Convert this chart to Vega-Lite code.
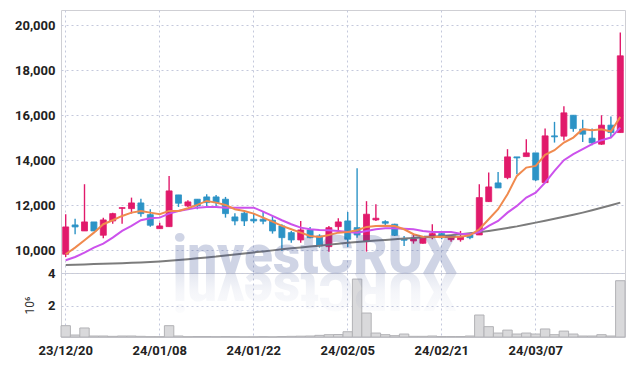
{
"$schema": "https://vega.github.io/schema/vega-lite/v6.json",
"padding": {"left": 14, "top": 9, "right": 8, "bottom": 5},
"background": "white",
"spacing": 0,
"bounds": "flush",
"config": {
 "font": "Roboto",
 "view": {"stroke": "#cfcfd4"},
 "axis": {"labelFont": "Roboto", "labelFontWeight": "bold", "labelFontSize": 13, "labelColor": "#222222", "ticks": false, "domain": false, "gridColor": "#c4c9dc", "gridDash": [2, 3], "gridWidth": 1, "labelPadding": 6}
},
"datasets": {"k": [
{"d":"23/12/20","o":9822,"h":11600,"l":9702,"c":11036,"v":0.79,"m1":9822,"m2":9556,"m3":9347},
{"d":"23/12/21","o":11124,"h":11404,"l":10711,"c":11036,"v":0.22,"m1":10116,"m2":9702,"m3":9360},
{"d":"23/12/22","o":10858,"h":12933,"l":10858,"c":11258,"v":0.65,"m1":10444,"m2":9893,"m3":9372},
{"d":"23/12/26","o":11258,"h":11258,"l":10858,"c":10858,"v":0.16,"m1":10782,"m2":10116,"m3":9385},
{"d":"23/12/27","o":10667,"h":11449,"l":10533,"c":11347,"v":0.16,"m1":11156,"m2":10293,"m3":9398},
{"d":"23/12/28","o":11302,"h":11671,"l":11182,"c":11627,"v":0.14,"m1":11333,"m2":10560,"m3":9412},
{"d":"24/01/02","o":11860,"h":11900,"l":11182,"c":11893,"v":0.16,"m1":11524,"m2":10858,"m3":9427},
{"d":"24/01/03","o":11849,"h":12338,"l":11627,"c":12102,"v":0.16,"m1":11671,"m2":11080,"m3":9443},
{"d":"24/01/04","o":12102,"h":12293,"l":11493,"c":11627,"v":0.14,"m1":11747,"m2":11333,"m3":9460},
{"d":"24/01/05","o":11582,"h":11822,"l":11049,"c":11111,"v":0.12,"m1":11671,"m2":11422,"m3":9480},
{"d":"24/01/08","o":10960,"h":11227,"l":10960,"c":11080,"v":0.12,"m1":11600,"m2":11449,"m3":9505},
{"d":"24/01/09","o":11049,"h":13302,"l":11049,"c":12636,"v":0.79,"m1":11747,"m2":11627,"m3":9535},
{"d":"24/01/10","o":12458,"h":12458,"l":11924,"c":12089,"v":0.16,"m1":11747,"m2":11747,"m3":9570},
{"d":"24/01/11","o":11969,"h":12222,"l":11924,"c":12147,"v":0.12,"m1":11867,"m2":11822,"m3":9605},
{"d":"24/01/12","o":12267,"h":12267,"l":11822,"c":11969,"v":0.13,"m1":12013,"m2":11893,"m3":9640},
{"d":"24/01/15","o":12369,"h":12489,"l":11969,"c":12116,"v":0.13,"m1":12191,"m2":11924,"m3":9680},
{"d":"24/01/16","o":12369,"h":12458,"l":11938,"c":12116,"v":0.12,"m1":12116,"m2":11924,"m3":9720},
{"d":"24/01/17","o":12267,"h":12369,"l":11449,"c":11627,"v":0.13,"m1":12013,"m2":11893,"m3":9770},
{"d":"24/01/18","o":11480,"h":11644,"l":11111,"c":11302,"v":0.12,"m1":11822,"m2":11893,"m3":9815},
{"d":"24/01/19","o":11644,"h":11778,"l":11080,"c":11302,"v":0.11,"m1":11747,"m2":11893,"m3":9860},
{"d":"24/01/22","o":11378,"h":11627,"l":11200,"c":11302,"v":0.11,"m1":11627,"m2":11893,"m3":9905},
{"d":"24/01/23","o":11378,"h":11700,"l":11160,"c":11290,"v":0.12,"m1":11449,"m2":11716,"m3":9950},
{"d":"24/01/24","o":11333,"h":11524,"l":10738,"c":10858,"v":0.11,"m1":11271,"m2":11524,"m3":9995},
{"d":"24/01/25","o":11080,"h":11156,"l":9969,"c":10560,"v":0.13,"m1":11080,"m2":11333,"m3":10040},
{"d":"24/01/26","o":10782,"h":10858,"l":10338,"c":10458,"v":0.14,"m1":10933,"m2":11156,"m3":10085},
{"d":"24/01/29","o":10458,"h":11302,"l":10338,"c":10902,"v":0.15,"m1":10782,"m2":11004,"m3":10125},
{"d":"24/01/30","o":10902,"h":11036,"l":10533,"c":10560,"v":0.16,"m1":10636,"m2":10933,"m3":10165},
{"d":"24/01/31","o":10636,"h":10711,"l":10116,"c":10191,"v":0.2,"m1":10591,"m2":10902,"m3":10205},
{"d":"24/02/01","o":10160,"h":11080,"l":9938,"c":11004,"v":0.24,"m1":10680,"m2":10889,"m3":10250},
{"d":"24/02/02","o":11049,"h":11422,"l":10858,"c":11258,"v":0.25,"m1":10782,"m2":10858,"m3":10290},
{"d":"24/02/05","o":11302,"h":11702,"l":10147,"c":10489,"v":0.42,"m1":10813,"m2":10813,"m3":10330},
{"d":"24/02/06","o":11004,"h":13644,"l":10560,"c":10680,"v":3.63,"m1":10889,"m2":10782,"m3":10365},
{"d":"24/02/07","o":10400,"h":12180,"l":9938,"c":11600,"v":1.56,"m1":11036,"m2":10858,"m3":10400},
{"d":"24/02/08","o":11347,"h":12044,"l":11302,"c":11422,"v":0.34,"m1":11080,"m2":10933,"m3":10430},
{"d":"24/02/13","o":11271,"h":11333,"l":11124,"c":11200,"v":0.24,"m1":11093,"m2":10978,"m3":10460},
{"d":"24/02/14","o":11156,"h":11182,"l":10636,"c":10667,"v":0.18,"m1":11080,"m2":10978,"m3":10489},
{"d":"24/02/15","o":10516,"h":10636,"l":10191,"c":10444,"v":0.28,"m1":10933,"m2":10960,"m3":10517},
{"d":"24/02/16","o":10413,"h":10738,"l":10293,"c":10502,"v":0.14,"m1":10711,"m2":10933,"m3":10545},
{"d":"24/02/19","o":10311,"h":10636,"l":10293,"c":10604,"v":0.14,"m1":10604,"m2":10858,"m3":10575},
{"d":"24/02/20","o":10560,"h":11156,"l":10489,"c":10738,"v":0.16,"m1":10591,"m2":10813,"m3":10605},
{"d":"24/02/21","o":10738,"h":10769,"l":10489,"c":10560,"v":0.13,"m1":10591,"m2":10813,"m3":10636},
{"d":"24/02/22","o":10471,"h":10667,"l":10382,"c":10560,"v":0.13,"m1":10591,"m2":10813,"m3":10672},
{"d":"24/02/23","o":10471,"h":10858,"l":10382,"c":10604,"v":0.13,"m1":10604,"m2":10738,"m3":10710},
{"d":"24/02/26","o":10680,"h":10711,"l":10489,"c":10560,"v":0.16,"m1":10667,"m2":10711,"m3":10755},
{"d":"24/02/27","o":10680,"h":12933,"l":10680,"c":12338,"v":1.44,"m1":10933,"m2":10813,"m3":10805},
{"d":"24/02/28","o":12160,"h":13449,"l":12147,"c":12813,"v":0.73,"m1":11378,"m2":11080,"m3":10858},
{"d":"24/02/29","o":12991,"h":13480,"l":12769,"c":12769,"v":0.34,"m1":11822,"m2":11302,"m3":10920},
{"d":"24/03/04","o":13227,"h":14489,"l":13156,"c":14147,"v":0.52,"m1":12489,"m2":11671,"m3":10990},
{"d":"24/03/05","o":14147,"h":14147,"l":13378,"c":14102,"v":0.28,"m1":13302,"m2":11969,"m3":11060},
{"d":"24/03/06","o":14160,"h":14933,"l":14160,"c":14324,"v":0.34,"m1":13671,"m2":12338,"m3":11140},
{"d":"24/03/07","o":14324,"h":14324,"l":13080,"c":13124,"v":0.28,"m1":13747,"m2":12560,"m3":11227},
{"d":"24/03/08","o":13004,"h":15410,"l":13004,"c":15080,"v":0.59,"m1":14236,"m2":13004,"m3":11310},
{"d":"24/03/11","o":15080,"h":15702,"l":14782,"c":15036,"v":0.24,"m1":14444,"m2":13524,"m3":11395},
{"d":"24/03/12","o":15067,"h":16400,"l":14871,"c":16102,"v":0.46,"m1":14782,"m2":14000,"m3":11485},
{"d":"24/03/13","o":15996,"h":15996,"l":15258,"c":15404,"v":0.28,"m1":15004,"m2":14267,"m3":11575},
{"d":"24/03/14","o":15378,"h":15791,"l":14813,"c":15156,"v":0.16,"m1":15378,"m2":14489,"m3":11671},
{"d":"24/03/15","o":14978,"h":15404,"l":14667,"c":14769,"v":0.16,"m1":15333,"m2":14711,"m3":11775},
{"d":"24/03/18","o":14711,"h":15996,"l":14680,"c":15556,"v":0.24,"m1":15378,"m2":14889,"m3":11885},
{"d":"24/03/19","o":15556,"h":15938,"l":15004,"c":15227,"v":0.16,"m1":15271,"m2":15004,"m3":11998},
{"d":"24/03/20","o":15227,"h":19671,"l":15227,"c":18636,"v":3.53,"m1":15924,"m2":15449,"m3":12116}
]},
"vconcat": [
 {
  "width": 564, "height": 263,
  "data": {"name": "k"},
  "encoding": {
   "x": {"field": "d", "type": "ordinal", "sort": null, "scale": {"paddingInner": 0, "paddingOuter": 0},
         "axis": {"values": ["23/12/20","24/01/08","24/01/22","24/02/05","24/02/21","24/03/07"], "labels": false, "title": null, "grid": true, "minExtent": 0, "maxExtent": 0}}
  },
  "layer": [
   {"mark": {"type": "rule", "strokeWidth": 1.4},
    "encoding": {
     "y": {"field": "l", "type": "quantitative", "scale": {"domain": [8990, 20670], "zero": false, "nice": false},
           "axis": {"values": [10000, 12000, 14000, 16000, 18000, 20000], "format": ",d", "title": null}},
     "y2": {"field": "h"},
     "color": {"condition": {"test": "datum.c >= datum.o", "value": "#e11a6b"}, "value": "#2c93c6"}
    }},
   {"mark": {"type": "bar", "width": 6, "strokeWidth": 0.8},
    "encoding": {
     "y": {"field": "o", "type": "quantitative"},
     "y2": {"field": "c"},
     "color": {"condition": {"test": "datum.c >= datum.o", "value": "#e11a6b"}, "value": "#2c93c6"},
     "stroke": {"condition": {"test": "datum.c >= datum.o", "value": "#e11a6b"}, "value": "#2c93c6"}
    }},
   {"mark": {"type": "line", "color": "#7c7c7c", "strokeWidth": 2},
    "encoding": {"y": {"field": "m3", "type": "quantitative"}}},
   {"mark": {"type": "line", "color": "#cc52ec", "strokeWidth": 2},
    "encoding": {"y": {"field": "m2", "type": "quantitative"}}},
   {"mark": {"type": "line", "color": "#f08a4e", "strokeWidth": 2},
    "encoding": {"y": {"field": "m1", "type": "quantitative"}}},
   {"data": {"values": [{"t": "investCRUX"}]},
    "mark": {"type": "text", "font": "Roboto", "fontWeight": 900, "fontSize": 53, "align": "center", "baseline": "alphabetic", "dx": 14, "color": "#28408c", "opacity": 0.22},
    "encoding": {"x": {"datum": "24/01/29"}, "y": {"datum": 8990}, "text": {"field": "t"}}}
  ]
 },
 {
  "width": 564, "height": 64,
  "data": {"name": "k"},
  "encoding": {
   "x": {"field": "d", "type": "ordinal", "sort": null, "scale": {"paddingInner": 0, "paddingOuter": 0},
         "axis": {"values": ["23/12/20","24/01/08","24/01/22","24/02/05","24/02/21","24/03/07"], "title": null, "grid": true, "labelAngle": 0, "labelPadding": 7}}
  },
  "layer": [
   {"mark": {"type": "bar", "fill": "#d9d9db", "stroke": "#b2b2b6", "strokeWidth": 1},
    "encoding": {
     "y": {"field": "v", "type": "quantitative", "scale": {"domain": [0.1, 4], "zero": false, "nice": false},
           "axis": {"values": [2, 4], "title": "10⁶", "titleFont": "Roboto", "titleFontWeight": "normal", "titleFontSize": 12, "titleColor": "#333333", "titlePadding": 11}},
     "y2": {"datum": 0.1}
    }},
   {"data": {"values": [{"t": "XURCtsevni"}]},
    "mark": {"type": "text", "font": "Roboto", "fontWeight": 900, "fontSize": 53, "align": "center", "baseline": "alphabetic", "angle": 180, "dx": -14,
             "color": {"gradient": "linear", "x1": 0, "y1": 0, "x2": 0, "y2": 1, "stops": [{"offset": 0, "color": "rgba(40,64,140,0)"}, {"offset": 0.5, "color": "rgba(40,64,140,0.05)"}, {"offset": 1, "color": "rgba(40,64,140,0.17)"}]}},
    "encoding": {"x": {"datum": "24/01/29"}, "y": {"datum": 4}, "text": {"field": "t"}}}
  ]
 }
]
}
